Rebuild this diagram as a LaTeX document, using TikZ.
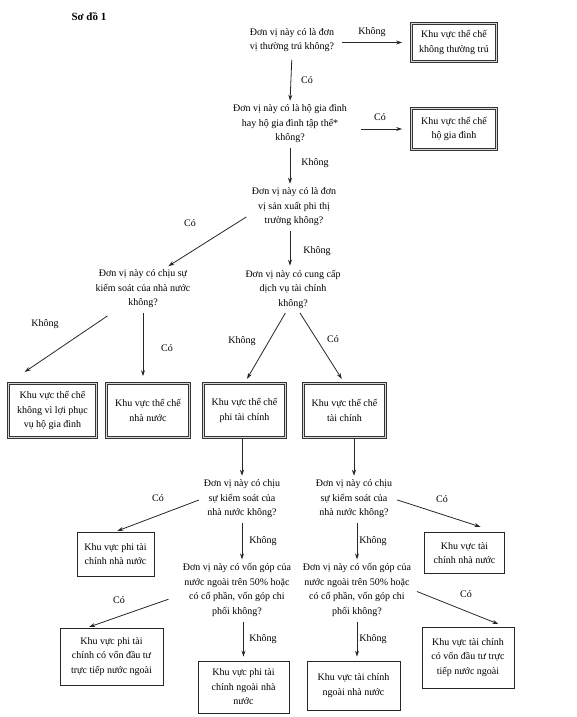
\documentclass[tikz,border=0pt]{standalone}
\usepackage{fontspec}
\setmainfont{Liberation Serif}
\usepackage{tikz}
\usetikzlibrary{positioning, arrows.meta}

\begin{document}
\begin{tikzpicture}[
        x=1pt, y=-1pt,
        font=\fontsize{10}{14.5}\selectfont,
        question/.style = {align=center, inner sep=2pt},
        sector/.style = {draw=black!80, double=black!15, double distance=1.2pt, line width=0.7pt, align=center, inner sep=2pt},
        subsector/.style = {draw=black!85, line width=0.8pt, align=center, inner sep=2pt},
        answer/.style = {inner sep=1pt},
        flow/.style = {draw=black!85, line width=0.8pt, -{Stealth[length=6pt, width=4pt]}, shorten <=3pt, shorten >=2pt},
    ]
        \useasboundingbox (0,0) rectangle (576,717);
        \node[font=\fontsize{11}{13}\selectfont\bfseries, anchor=west] (title) at (68,17) {Sơ đồ 1};

        % cau hoi phan loai
        \node[question] (q1) at (292,40) {Đơn vị này có là đơn\\vị thường trú không?};
        \node[question] (q2) at (290,124) {Đơn vị này có là hộ gia đình\\hay hộ gia đình tập thể*\\không?};
        \node[question] (q3) at (294,207) {Đơn vị này có là đơn\\vị sản xuất phi thị\\trường không?};
        \node[question] (q4) at (143,289) {Đơn vị này có chịu sự\\kiểm soát của nhà nước\\không?};
        \node[question] (q5) at (293,289) {Đơn vị này có cung cấp\\dịch vụ tài chính\\không?};
        \node[question] (q6) at (242,499) {Đơn vị này có chịu\\sự kiểm soát của\\nhà nước không?};
        \node[question] (q7) at (354,499) {Đơn vị này có chịu\\sự kiểm soát của\\nhà nước không?};
        \node[question] (q8) at (237,590) {Đơn vị này có vốn góp của\\nước ngoài trên 50\% hoặc\\có cổ phần, vốn góp chi\\phối không?};
        \node[question] (q9) at (357,590) {Đơn vị này có vốn góp của\\nước ngoài trên 50\% hoặc\\có cổ phần, vốn góp chi\\phối không?};

        % khu vuc the che
        \node[sector, minimum width=85pt, minimum height=38pt] (b1) at (454,42.5) {Khu vực thể chế\\không thường trú};
        \node[sector, minimum width=85pt, minimum height=41pt] (b2) at (454,129) {Khu vực thể chế\\hộ gia đình};
        \node[sector, minimum width=88pt, minimum height=54pt] (b3) at (52.5,410.5) {Khu vực thể chế\\không vì lợi phục\\vụ hộ gia đình};
        \node[sector, minimum width=83pt, minimum height=54pt] (b4) at (148,410.5) {Khu vực thể chế\\nhà nước};
        \node[sector, minimum width=82pt, minimum height=54pt] (b5) at (244.5,410.5) {Khu vực thể chế\\phi tài chính};
        \node[sector, minimum width=82pt, minimum height=54pt] (b6) at (344.5,410.5) {Khu vực thể chế\\tài chính};

        % khu vuc con
        \node[subsector, minimum width=77pt, minimum height=44pt] (b7) at (115.5,554) {Khu vực phi tài\\chính nhà nước};
        \node[subsector, minimum width=80pt, minimum height=41pt] (b8) at (464.5,553) {Khu vực tài\\chính nhà nước};
        \node[subsector, minimum width=103pt, minimum height=57pt] (b9) at (111.5,656.5) {Khu vực phi tài\\chính có vốn đầu tư\\trực tiếp nước ngoài};
        \node[subsector, minimum width=91pt, minimum height=52pt] (b10) at (243.5,687) {Khu vực phi tài\\chính ngoài nhà\\nước};
        \node[subsector, minimum width=93pt, minimum height=49pt] (b11) at (353.5,685.5) {Khu vực tài chính\\ngoài nhà nước};
        \node[subsector, minimum width=92pt, minimum height=61pt] (b12) at (468,657.5) {Khu vực tài chính\\có vốn đầu tư trực\\tiếp nước ngoài};

        % mui ten
        \draw[flow, shorten <=6pt, shorten >=9pt] (q1.east |- b1.west) -- (b1.west);
        \draw[flow, shorten <=6pt] (q1.south) -- (q2.north);
        \draw[flow, shorten <=12pt, shorten >=9pt] (q2.east |- b2.west) -- (b2.west);
        \draw[flow] (q2.south) -- (q2.south |- q3.north);
        \draw[flow, shorten <=4pt, shorten >=3pt] (q3.190) -- (q4.43);
        \draw[flow] (q3.south -| q2.south) -- (q5.north -| q2.south);
        \draw[flow, shorten <=10pt, shorten >=20pt] (q4.218) -- (b3.north west);
        \draw[flow, shorten >=7pt] (q4.south) -- (q4.south |- b4.north);
        \draw[flow, shorten >=5pt] (q5.254) -- (b5.north);
        \draw[flow, shorten >=5pt] (q5.284) -- (b6.north);
        \draw[flow, shorten <=0pt] (q6.north |- b5.south) -- (q6.north);
        \draw[flow, shorten <=0pt] (q7.north |- b6.south) -- (q7.north);
        \draw[flow] (q6.west) -- (b7.north);
        \draw[flow, shorten >=17pt] (q7.east) -- (b8.33);
        \draw[flow] (q6.south) -- (q6.south |- q8.north);
        \draw[flow] (q7.south -| q9.north) -- (q9.north);
        \draw[flow, shorten <=13pt] (q8.185) -- (b9.130);
        \draw[flow, shorten <=4pt, shorten >=7pt] (q9.east) -- (b12.40);
        \draw[flow, shorten >=4pt] (b10.north |- q8.south) -- (b10.north);
        \draw[flow, shorten >=4pt] (q9.south) -- (q9.south |- b11.north);

        % nhan
        \node[answer] (k1) at (372,32) {Không};
        \node[answer] (c1) at (307,80) {Có};
        \node[answer] (c2) at (380,117) {Có};
        \node[answer] (k2) at (315,163) {Không};
        \node[answer] (c3) at (190,223) {Có};
        \node[answer] (k3) at (317,251) {Không};
        \node[answer] (k4) at (45,324) {Không};
        \node[answer] (c4) at (167,348) {Có};
        \node[answer] (k5) at (242,341) {Không};
        \node[answer] (c5) at (333,339) {Có};
        \node[answer] (c6) at (158,498) {Có};
        \node[answer] (c7) at (442,499) {Có};
        \node[answer] (k6) at (263,541) {Không};
        \node[answer] (k7) at (373,541) {Không};
        \node[answer] (c8) at (119,600) {Có};
        \node[answer] (k8) at (263,639) {Không};
        \node[answer] (k9) at (373,639) {Không};
        \node[answer] (c9) at (466,594) {Có};
    \end{tikzpicture}
\end{document}
